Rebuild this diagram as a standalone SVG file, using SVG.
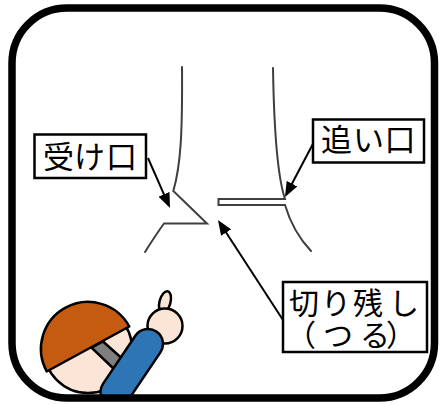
<svg xmlns="http://www.w3.org/2000/svg" width="440" height="405" viewBox="0 0 440 405">
  <style>
    .trunk { fill: none; stroke: #3f3f3f; stroke-width: 2; stroke-linecap: round; stroke-linejoin: miter; }
    .box { fill: #ffffff; stroke: #000000; stroke-width: 2.5; }
    .label { font-family: "Noto Sans CJK JP", "Noto Sans", sans-serif; font-size: 31px; fill: #000000; text-anchor: middle; }
    .arrow { fill: none; stroke: #000000; stroke-width: 2; marker-end: url(#head); }
    .ol { stroke: #000000; stroke-width: 2.5; stroke-linejoin: round; }
  </style>
  <defs>
    <marker id="head" viewBox="0 0 15 12" refX="12" refY="6" markerWidth="15" markerHeight="12" markerUnits="userSpaceOnUse" orient="auto">
      <path d="M0,0 L15,6 L0,12 Z" fill="#000000"/>
    </marker>
    <clipPath id="inside">
      <rect x="12" y="8" width="422.5" height="390" rx="55"/>
    </clipPath>
  </defs>

  <rect x="0" y="0" width="440" height="405" fill="#ffffff"/>

  <!-- tree trunk with the felling cuts -->
  <g id="tree">
    <path class="trunk" d="M182,67 C182.5,130 181,165 173.3,191 L207,223.5 L164,223.5 Q157,233 145,252"/>
    <path class="trunk" d="M273,68 C274,130 277,175 285,199 L218.5,199 L218.5,205 L285,205 Q293,232 311,251"/>
  </g>

  <!-- connectors -->
  <g id="connectors">
    <line class="arrow" x1="148" y1="158" x2="168.8" y2="205.3"/>
    <line class="arrow" x1="315" y1="140" x2="286.4" y2="194.3"/>
    <line class="arrow" x1="283" y1="320" x2="219.6" y2="222.5"/>
  </g>

  <g id="label-ukeguchi">
    <rect class="box" x="34.5" y="134.5" width="111.5" height="43.5"/>
    <text class="label" x="58.5 89.5 121.5" y="167.5">受け口</text>
  </g>

  <g id="label-oiguchi">
    <rect class="box" x="313" y="119.5" width="111" height="43"/>
    <text class="label" x="336.5 368.5 400" y="151.3">追い口</text>
  </g>

  <g id="label-tsuru">
    <rect class="box" x="283" y="282" width="144" height="70"/>
    <text class="label" style="font-size:30px"><tspan x="304 336 368 404" y="313.5">切り残し</tspan><tspan x="301 338 375 401" y="346">（つる）</tspan></text>
  </g>

  <!-- worker pointing at the tree -->
  <g id="worker" clip-path="url(#inside)">
    <circle class="ol" cx="88" cy="349" r="44" fill="#fbe5d6"/>
    <path class="ol" d="M46.7,371.5 A47,47 0 0 1 129.3,326.5 Z" fill="#c55a11"/>
    <polygon class="ol" points="91.5,347.7 103,341.5 126,362 115,370" fill="#7f7f7f"/>
    <ellipse class="ol" cx="165" cy="302" rx="5.5" ry="11" transform="rotate(15 165 302)" fill="#fbe5d6"/>
    <circle class="ol" cx="165" cy="326" r="17.5" fill="#fbe5d6"/>
    <rect class="ol" x="-44" y="-15" width="88" height="30" rx="15" transform="translate(131.75 368) rotate(-56)" fill="#2e75b6"/>
  </g>

  <!-- panel frame -->
  <rect id="frame" x="12" y="8" width="422.5" height="390" rx="55" fill="none" stroke="#000000" stroke-width="7.5"/>
</svg>
